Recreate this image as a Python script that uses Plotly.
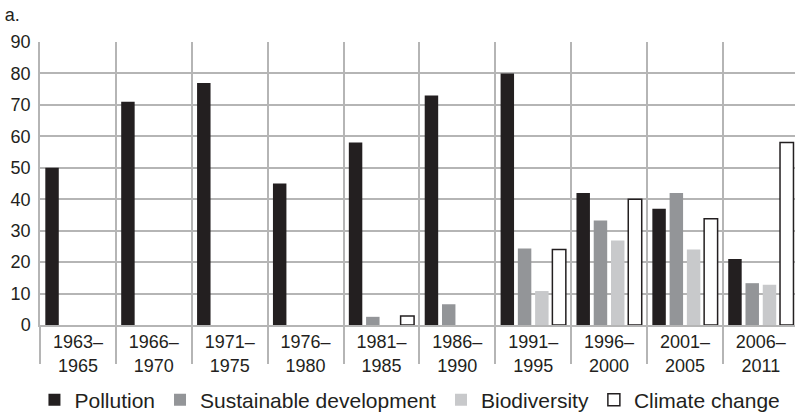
import plotly.graph_objects as go

periods = ["1963–<br>1965", "1966–<br>1970", "1971–<br>1975", "1976–<br>1980", "1981–<br>1985",
           "1986–<br>1990", "1991–<br>1995", "1996–<br>2000", "2001–<br>2005", "2006–<br>2011"]
pollution = [50, 71, 77, 45, 58, 73, 80, 42, 37, 21]
sustainable = [None, None, None, None, 2.6, 6.6, 24.3, 33.2, 42, 13.3]
biodiversity = [None, None, None, None, None, None, 10.8, 26.9, 24, 12.8]
climate = [None, None, None, None, 2.9, None, 24, 40, 33.8, 58]
y_ticks = [0, 10, 20, 30, 40, 50, 60, 70, 80, 90]

ink = "#231f20"
grid = "#b5b5b5"
font_family = "Liberation Sans, Arial, sans-serif"

fig = go.Figure()
fig.add_trace(go.Bar(x=periods, y=pollution, name="Pollution",
                     marker=dict(color=ink, line=dict(width=0))))
fig.add_trace(go.Bar(x=periods, y=sustainable, name="Sustainable development",
                     marker=dict(color="#939598", line=dict(width=0))))
fig.add_trace(go.Bar(x=periods, y=biodiversity, name="Biodiversity",
                     marker=dict(color="#c8c9cb", line=dict(width=0))))
fig.add_trace(go.Bar(x=periods, y=climate, name="Climate change",
                     marker=dict(color="#ffffff", line=dict(color=ink, width=1.5))))

fig.update_layout(
    width=795, height=418,
    margin=dict(l=40, r=0, t=42, b=93, autoexpand=False),
    paper_bgcolor="white", plot_bgcolor="white",
    font=dict(family=font_family, color=ink, size=18),
    barmode="group", bargap=0.09, bargroupgap=0.22,
    showlegend=True,
    legend=dict(orientation="h", x=0.49, xanchor="center", y=-0.265, yanchor="middle",
                font=dict(size=21, color=ink), itemwidth=30,
                traceorder="normal", bgcolor="rgba(0,0,0,0)"),
    title=dict(text="a.", x=0.006, xanchor="left", y=0.964, yanchor="middle",
               font=dict(size=18, color=ink)),
)
fig.update_xaxes(type="category", tickson="boundaries", ticks="outside", ticklen=37,
                 tickcolor=grid, tickwidth=1.5, showgrid=True, gridcolor=grid, gridwidth=1.5,
                 showline=True, linecolor=grid, linewidth=1.5,
                 range=[-0.5, 9.45], tickfont=dict(size=18, color=ink), fixedrange=True)
fig.update_yaxes(range=[0, 90], tickvals=y_ticks, showgrid=True, gridcolor=grid, gridwidth=1.5,
                 showline=True, linecolor=grid, linewidth=1.5, zeroline=False,
                 ticks="", ticklabelstandoff=4, tickfont=dict(size=18, color=ink))

fig.write_html("out.html", config={"displayModeBar": False},
               post_script="document.body.style.margin='0';")
